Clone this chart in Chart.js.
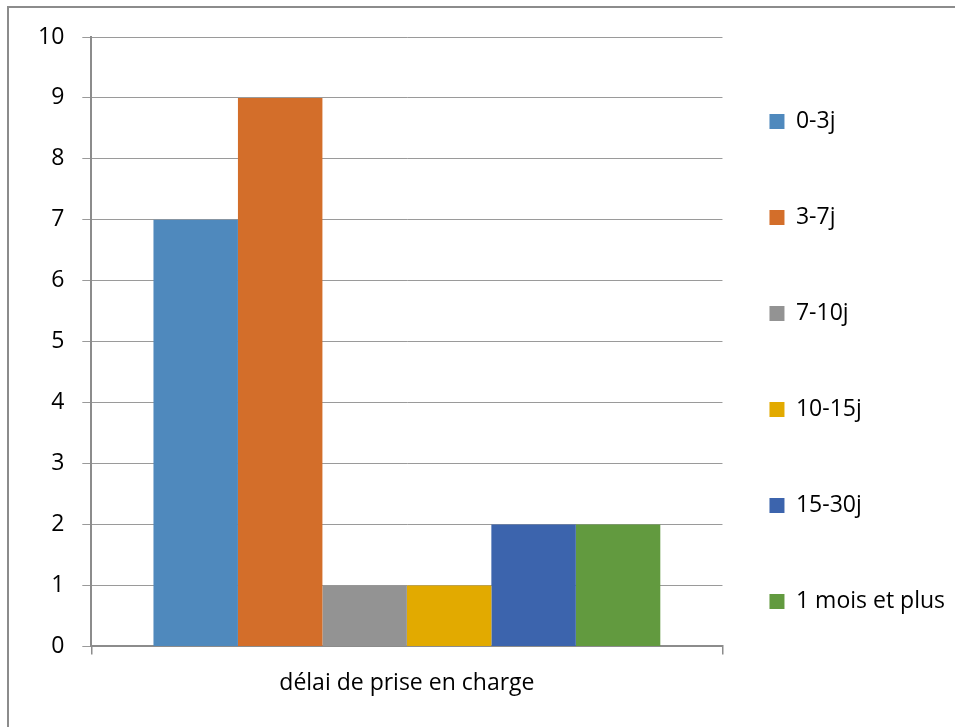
<!DOCTYPE html>
<html lang="fr">
<head>
<meta charset="utf-8">
<title>délai de prise en charge</title>
<script src="https://cdn.jsdelivr.net/npm/chart.js@4.4.1/dist/chart.umd.min.js"></script>
<style>
  html, body { margin: 0; padding: 0; background: #fff; overflow: hidden; }
  body { width: 955px; height: 727px; position: relative; }
  /* outer frame of the chart object (left + top edges only are visible) */
  .frame {
    position: absolute; left: 7px; top: 6px;
    width: 1000px; height: 800px;
    border-left: 2px solid #8c8c8c; border-top: 2px solid #8c8c8c;
  }
  #chart { position: absolute; left: 0; top: 0; }
</style>
</head>
<body>
<div class="frame"></div>
<canvas id="chart" width="955" height="727"></canvas>
<script>
/* ── data ───────────────────────────── */
const categories  = ['délai de prise en charge'];
const seriesNames = ['0-3j', '3-7j', '7-10j', '10-15j', '15-30j', '1 mois et plus'];
const seriesVals  = [7, 9, 1, 1, 2, 2];
const seriesCols  = ['#4F89BD', '#D36E2A', '#939393', '#E2AA00', '#3C64AD', '#629A3F'];
const yTicks      = [0, 1, 2, 3, 4, 5, 6, 7, 8, 9, 10];

/* ── look ───────────────────────────── */
const FONT     = "'Open Sans', 'Noto Sans', sans-serif";
const FSIZE    = 23;
const txtCol   = '#000';
const gridCol  = '#9a9a9a';
const axisCol  = '#8c8c8c';

Chart.defaults.font.family = FONT;
Chart.defaults.font.size   = FSIZE;
Chart.defaults.color       = txtCol;

const datasets = seriesNames.map((name, i) => ({
  label: name,
  data: [seriesVals[i]],
  backgroundColor: seriesCols[i],
  borderWidth: 0,
  categoryPercentage: 0.803,
  barPercentage: 1.0
}));

new Chart(document.getElementById('chart'), {
  type: 'bar',
  data: { labels: categories, datasets },
  options: {
    responsive: false,
    animation: false,
    events: [],
    layout: { padding: { left: 20, top: 37, right: 0, bottom: 15 } },
    plugins: {
      tooltip: { enabled: false },
      legend: {
        position: 'right',
        labels: {
          boxWidth: 15,
          boxHeight: 15,
          padding: 47,
          color: txtCol,
          /* wrap text in an array so the row height follows font.lineHeight */
          font: { family: FONT, size: FSIZE, lineHeight: '49px' },
          generateLabels (chart) {
            const items = Chart.defaults.plugins.legend.labels.generateLabels(chart);
            return items.map(it => ({ ...it, text: [it.text], lineWidth: 0 }));
          }
        }
      }
    },
    scales: {
      x: {
        grid: {
          display: true,
          drawOnChartArea: false,
          drawTicks: true,
          tickLength: 8,
          color: axisCol,
          lineWidth: 1.5
        },
        border: { display: true, color: axisCol, width: 2 },
        ticks: { padding: 15, color: txtCol, font: { size: FSIZE } }
      },
      y: {
        min: 0,
        max: 10,
        afterBuildTicks (axis) { axis.ticks = yTicks.map(v => ({ value: v })); },
        grid: {
          color: gridCol,
          lineWidth: 1,
          tickLength: 9,
          drawTicks: true
        },
        border: { display: true, color: axisCol, width: 2 },
        ticks: { padding: 18, color: txtCol, font: { size: FSIZE } }
      }
    }
  }
});
</script>
</body>
</html>
